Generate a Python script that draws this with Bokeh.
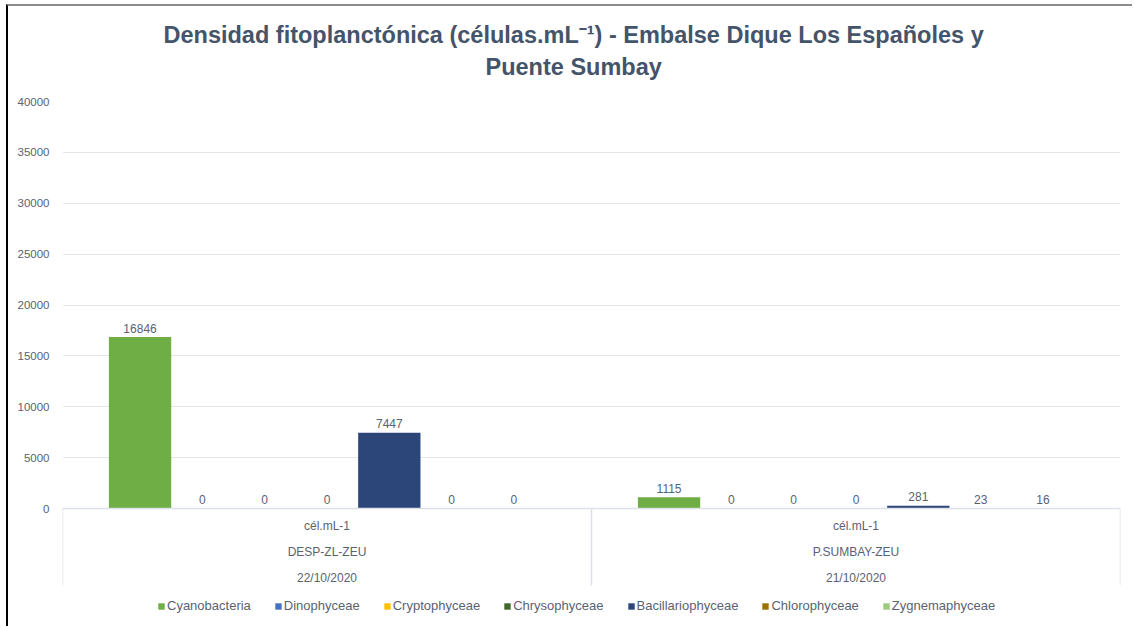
from bokeh.plotting import figure
from bokeh.models import Range1d, FixedTicker, Title, Legend, LegendItem
from bokeh.core.properties import value
from bokeh.embed import file_html
from bokeh.resources import INLINE

# ---------------- data ----------------
title_line1 = "Densidad fitoplanctónica (células.mL⁻¹) - Embalse  Dique Los Españoles y"
title_line2 = "Puente Sumbay"
stations = ["DESP-ZL-ZEU", "P.SUMBAY-ZEU"]
dates = ["22/10/2020", "21/10/2020"]
unit_label = "cél.mL-1"
series = ["Cyanobacteria", "Dinophyceae", "Cryptophyceae", "Chrysophyceae",
          "Bacillariophyceae", "Chlorophyceae", "Zygnemaphyceae"]
cyanobacteria = [16846, 1115]
dinophyceae = [0, 0]
cryptophyceae = [0, 0]
chrysophyceae = [0, 0]
bacillariophyceae = [7447, 281]
chlorophyceae = [0, 23]
zygnemaphyceae = [0, 16]
values = [cyanobacteria, dinophyceae, cryptophyceae, chrysophyceae,
          bacillariophyceae, chlorophyceae, zygnemaphyceae]
y_ticks = [0, 5000, 10000, 15000, 20000, 25000, 30000, 35000, 40000]
colors = ["#6FAD45", "#4472C4", "#FFC000", "#43682B", "#2C4679", "#997300", "#9DCB7E"]

# ---------------- layout constants (canvas px) ----------------
W, H = 1126, 622
FRAME_TOP, ZERO_Y, FRAME_BOTTOM = 95, 502, 622
px_per_unit = (ZERO_Y - FRAME_TOP) / 40000.0
y_min = -(FRAME_BOTTOM - ZERO_Y) / px_per_unit
table_bottom = -77 / px_per_unit

FONT = "Liberation Sans"
TXT = "#5A6272"

p = figure(width=W, height=H, output_backend="svg", toolbar_location=None,
           x_range=Range1d(-0.5, 1.5), y_range=Range1d(y_min, 40000),
           x_axis_location=None, min_border_left=54, min_border_right=14,
           min_border_top=FRAME_TOP, min_border_bottom=0,
           styles={"margin-left": "6px", "margin-top": "4px",
                   "border-left": "2px solid #000000",
                   "border-top": "2px solid #8a8a8a"})
p.outline_line_color = None
p.xgrid.visible = False
p.ygrid.ticker = FixedTicker(ticks=y_ticks)
p.ygrid.grid_line_color = "#E3E6EB"
p.yaxis.ticker = FixedTicker(ticks=y_ticks)
p.yaxis.axis_line_color = None
p.yaxis.major_tick_line_color = None
p.yaxis.minor_tick_line_color = None
p.yaxis.major_label_standoff = 7
p.yaxis.major_label_text_font = FONT
p.yaxis.major_label_text_font_size = "11.5px"
p.yaxis.major_label_text_color = TXT

n = len(series)
w = 0.1178
items = []
for k, (name, vals, col) in enumerate(zip(series, values, colors)):
    xs = [i + (k - (n - 1) / 2) * w for i in range(len(stations))]
    r = p.vbar(x=xs, top=vals, bottom=0, width=w, fill_color=col, line_color=None)
    p.text(x=xs, y=vals, text=[str(v) for v in vals], text_align="center",
           text_baseline="alphabetic", y_offset=-9, text_font=value(FONT),
           text_font_size="12px", text_color=TXT)
    items.append(LegendItem(label=name, renderers=[r]))

# table-style category axis
grid_col = "#DDE1E7"
p.segment(x0=[-0.5], y0=[0], x1=[1.5], y1=[0], line_color=grid_col, line_width=1.5)
p.segment(x0=[-0.5, 0.5, 1.5], y0=[0, 0, 0], x1=[-0.5, 0.5, 1.5],
          y1=[table_bottom] * 3, line_color=grid_col, line_width=1.5)
centers = list(range(len(stations)))
for txt, off in (([unit_label] * 2, 17), (stations, 43), (dates, 69)):
    p.text(x=centers, y=[0] * len(centers), text=txt, text_align="center",
           text_baseline="middle", y_offset=off, text_font=value(FONT),
           text_font_size="12px", text_color=TXT)

legend = Legend(items=items, orientation="horizontal", location=(95, 15),
                glyph_width=8, glyph_height=8, label_standoff=2, spacing=23,
                padding=0, margin=0, border_line_color=None,
                background_fill_alpha=0, label_text_font=FONT,
                label_text_font_size="13px", label_text_color=TXT)
p.add_layout(legend)

p.add_layout(Title(text=title_line2, align="left", text_font=FONT,
                   text_font_size="23.5px", text_font_style="bold",
                   text_color="#44546A", standoff=43, offset=423), "above")
p.add_layout(Title(text=title_line1, align="left", text_font=FONT,
                   text_font_size="23.5px", text_font_style="bold",
                   text_color="#44546A", standoff=-34, offset=101), "above")

open("out.html", "w").write(file_html(p, INLINE))
